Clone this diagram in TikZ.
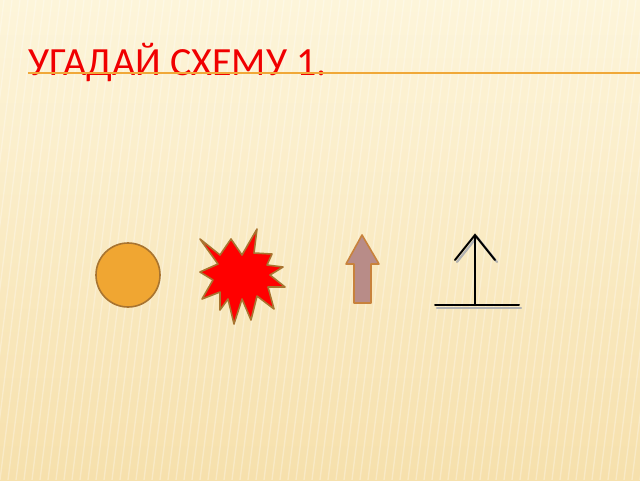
\documentclass[tikz,border=0pt]{standalone}
\usepackage{fontspec}
\setmainfont{Carlito}
\definecolor{bgtop}{HTML}{FDF5DA}
\definecolor{bgbot}{HTML}{F6E0AC}
\definecolor{titlered}{HTML}{F00000}
\definecolor{rulecol}{HTML}{F0A838}
\definecolor{ballfill}{HTML}{F0A632}
\definecolor{balledge}{HTML}{A87430}
\definecolor{arrowfill}{HTML}{B88C88}
\definecolor{arrowedge}{HTML}{C8823C}
\tikzset{
  shadowline/.style={line width=1.6pt,gray!60,line cap=round},
  signline/.style={line width=1.5pt,black,line cap=round},
}
\begin{document}
\begin{tikzpicture}[x=0.75pt,y=-0.75pt]
        \useasboundingbox (0,0) rectangle (640,480);
        \shade[top color=bgtop,bottom color=bgbot] (0,0) rectangle (640,480);
        \begin{scope}
          \clip (0,0) rectangle (640,480);
          \foreach \i in {-20,-12,...,700}
            \draw[white,opacity=0.3,line width=1pt] (\i,0) -- (\i-60,480);
        \end{scope}
        % title
        \node[anchor=base west,text=titlered,font=\fontsize{30}{36}\selectfont,inner sep=0pt] (title) at (28,75) {УГАДАЙ СХЕМУ 1.};
        \draw[rulecol,line width=0.9pt] (28,73) -- (640,73);
        % ball
        \draw[fill=ballfill,draw=balledge,line width=1.2pt] (128,275) circle (32);
        % explosion
        \draw[fill=red,draw=balledge,line width=1.2pt,line join=round]
          (200,239) -- (220,255) -- (231,239) -- (242,255) -- (257,229) -- (254,253)
          -- (272,254) -- (267,265) -- (283,267) -- (270,275) -- (285,287) -- (268,287)
          -- (274,309) -- (257,296) -- (251,320) -- (242,299) -- (234,324) -- (228,299)
          -- (220,310) -- (220,292) -- (202,299) -- (213,280) -- (200,272) -- (218,264) -- cycle;
        % arrow
        \draw[fill=arrowfill,draw=arrowedge,line width=1.2pt,line join=round]
          (362,235) -- (379,264) -- (371,264) -- (371,303) -- (354,303) -- (354,264) -- (346,264) -- cycle;
        % sign
        \draw[shadowline] (457,262) -- (477,237) -- (497,262);
        \draw[shadowline] (437,308) -- (521,308);
        \draw[signline] (455,260) -- (475,235) -- (495,260);
        \draw[signline] (475,236) -- (475,305);
        \draw[signline] (435,305) -- (519,305);
    \end{tikzpicture}
\end{document}
